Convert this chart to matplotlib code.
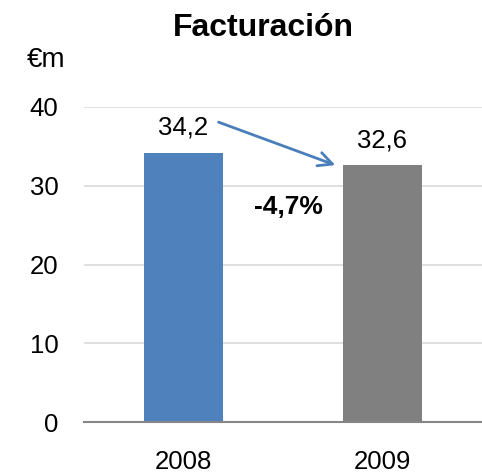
import matplotlib
matplotlib.use("Agg")
import matplotlib.pyplot as plt

years = ["2008", "2009"]
values = [34.2, 32.6]
value_labels = ["34,2", "32,6"]
bar_colors = ["#4f81bd", "#808080"]
yticks = [0, 10, 20, 30, 40]
change_label = "-4,7%"

plt.rcParams['font.family'] = ['Liberation Sans', 'DejaVu Sans']

fig = plt.figure(figsize=(4.82, 4.76), dpi=100)
ax = fig.add_axes([84/482, 1 - 422/476, 398/482, (422 - 107)/476])

x = list(range(len(years)))
ax.bar(x, values, width=0.4, color=bar_colors, zorder=3)
ax.set_xlim(-0.5, 1.5)
ax.set_ylim(0, 40)
ax.set_yticks(yticks)
ax.set_yticklabels([str(t) for t in yticks], fontsize=18.5)
ax.set_xticks(x)
ax.set_xticklabels(years, fontsize=18.5)
ax.tick_params(axis='both', length=0)
ax.tick_params(axis='y', pad=18.5)
ax.tick_params(axis='x', pad=20.5)
for s in ['top', 'right', 'left']:
    ax.spines[s].set_visible(False)
ax.spines['bottom'].set_color('#868686')
ax.spines['bottom'].set_linewidth(1.5)
ax.spines['bottom'].set_zorder(4)
ax.yaxis.grid(True, color='#d9d9d9', linewidth=1.2, zorder=0)
ax.set_axisbelow(True)

for xi, v, lab in zip(x, values, value_labels):
    ax.text(xi, v + 3.2, lab, ha='center', va='center', fontsize=18.5, clip_on=False)

ax.annotate('', xy=(0.776, 32.5), xytext=(0.163, 38.2),
            arrowprops=dict(arrowstyle='->,head_length=1.0,head_width=0.5',
                            color='#4a7ebb', lw=2), annotation_clip=False)
ax.text(0.525, 27.3, change_label, ha='center', va='center', fontsize=19,
        fontweight='bold')

fig.text(263/482, 1 - 28/476, "Facturación", ha='center', va='center',
         fontsize=23, fontweight='bold')
fig.text(27/482, 1 - 60/476, "€m", ha='left', va='center', fontsize=20)

fig.savefig("out.png", dpi=100)
